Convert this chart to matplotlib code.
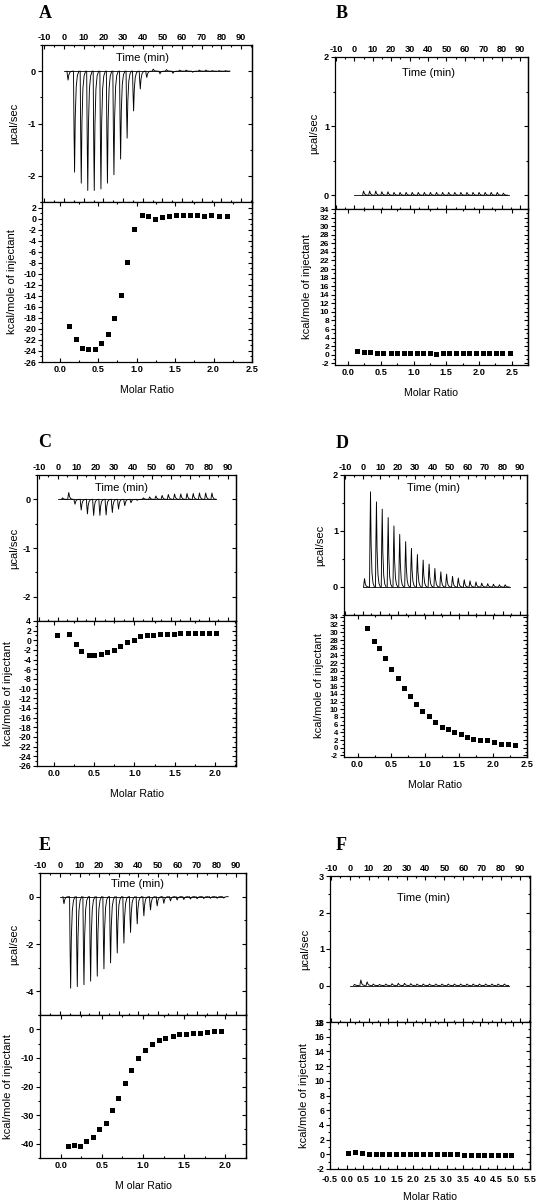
import matplotlib
matplotlib.use("Agg")
import matplotlib.pyplot as plt
import matplotlib.transforms as mtransforms
from matplotlib.ticker import MultipleLocator, FormatStrFormatter, NullFormatter

plt.rcParams['font.family'] = ['Liberation Sans', 'DejaVu Sans']
plt.rcParams['axes.unicode_minus'] = False

# ---------------- data ----------------
# injection times (min) and raw peak heights (µcal/sec)
A_times = [1.5, 4.8, 8.2, 11.5, 14.8, 18.2, 21.5, 24.8, 28.2, 31.5, 34.8, 38.2, 41.5,
           44.8, 48.2, 51.5, 54.8, 58.2, 61.5, 64.8, 68.2, 71.5, 74.8, 78.2, 81.5]
A_peaks = [-0.17, -1.93, -2.14, -2.28, -2.28, -2.25, -2.14, -1.98, -1.68, -1.28, -0.76, -0.34,
           -0.12, 0.04, -0.05, 0.03, -0.04, 0.02, 0.02, -0.02, 0.02, 0.02, 0.01, 0.01, 0.01]
A_ratio = [0.12, 0.21, 0.29, 0.37, 0.46, 0.54, 0.63, 0.71, 0.80, 0.88, 0.97, 1.07,
           1.15, 1.24, 1.33, 1.42, 1.51, 1.60, 1.70, 1.79, 1.88, 1.97, 2.07, 2.17]
A_heat = [-19.4, -21.9, -23.5, -23.6, -23.6, -22.5, -21.0, -18.0, -13.8, -7.9, -1.9, 0.7,
          0.4, 0.0, 0.2, 0.4, 0.6, 0.6, 0.6, 0.6, 0.5, 0.6, 0.5, 0.4]

B_times = [4.5, 7.8, 11.1, 14.4, 17.7, 21.0, 24.3, 27.6, 30.9, 34.2, 37.5, 40.8,
           44.1, 47.4, 50.7, 54.0, 57.3, 60.6, 63.9, 67.2, 70.5, 73.8, 77.1, 80.4]
B_peaks = [0.06, 0.06, 0.06, 0.05, 0.05, 0.04, 0.04, 0.04, 0.04, 0.04, 0.04, 0.04,
           0.04, 0.04, 0.04, 0.04, 0.04, 0.04, 0.04, 0.04, 0.04, 0.04, 0.04, 0.03]
B_ratio = [0.14, 0.24, 0.34, 0.44, 0.54, 0.65, 0.75, 0.85, 0.95, 1.05, 1.15, 1.25,
           1.35, 1.45, 1.55, 1.65, 1.75, 1.85, 1.96, 2.06, 2.16, 2.26, 2.36, 2.47]
B_heat = [0.8, 0.6, 0.6, 0.5, 0.4, 0.4, 0.4, 0.4, 0.4, 0.4, 0.4, 0.4,
          0.2, 0.3, 0.4, 0.4, 0.4, 0.4, 0.4, 0.4, 0.4, 0.4, 0.3, 0.3]

C_times = [2.0, 5.3, 8.6, 11.9, 15.2, 18.5, 21.8, 25.1, 28.4, 31.7, 35.0, 38.3, 41.6,
           44.9, 48.2, 51.5, 54.8, 58.1, 61.4, 64.7, 68.0, 71.3, 74.6, 77.9, 81.2]
C_peaks = [0.03, 0.14, -0.10, -0.22, -0.30, -0.33, -0.33, -0.32, -0.27, -0.20, -0.13, -0.07,
           -0.02, 0.03, 0.05, 0.07, 0.08, 0.10, 0.11, 0.11, 0.12, 0.12, 0.13, 0.13, 0.13]
C_ratio = [0.04, 0.19, 0.27, 0.34, 0.43, 0.50, 0.58, 0.66, 0.74, 0.82, 0.91, 0.99,
           1.07, 1.15, 1.23, 1.32, 1.40, 1.49, 1.57, 1.66, 1.75, 1.84, 1.93, 2.01]
C_heat = [1.0, 1.3, -0.7, -2.3, -3.0, -3.1, -2.8, -2.5, -1.9, -1.2, -0.4, 0.1,
          0.8, 1.1, 1.2, 1.4, 1.4, 1.4, 1.5, 1.6, 1.6, 1.6, 1.6, 1.6]

D_times = [0.5, 3.9, 7.3, 10.6, 14.0, 17.3, 20.6, 24.0, 27.3, 30.7, 34.0, 37.4, 40.7,
           44.1, 47.4, 50.8, 54.1, 57.5, 60.8, 64.2, 67.5, 70.9, 74.2, 77.6, 80.9]
D_peaks = [0.15, 1.70, 1.52, 1.39, 1.24, 1.09, 0.94, 0.81, 0.69, 0.58, 0.48, 0.41, 0.33,
           0.27, 0.23, 0.19, 0.16, 0.13, 0.11, 0.09, 0.07, 0.06, 0.05, 0.04, 0.04]
D_ratio = [0.14, 0.24, 0.32, 0.41, 0.50, 0.59, 0.68, 0.77, 0.86, 0.95, 1.05, 1.14,
           1.24, 1.33, 1.42, 1.52, 1.61, 1.71, 1.81, 1.91, 2.01, 2.11, 2.22, 2.32]
D_heat = [31.0, 27.8, 25.8, 23.2, 20.4, 18.0, 15.6, 13.4, 11.4, 9.5, 8.2, 6.7,
          5.5, 4.8, 4.0, 3.5, 2.9, 2.4, 2.1, 1.9, 1.5, 1.1, 1.0, 0.7]

E_times = [1.5, 4.9, 8.3, 11.7, 15.1, 18.5, 21.9, 25.3, 28.7, 32.1, 35.5, 38.9, 42.3,
           45.7, 49.1, 52.5, 55.9, 59.3, 62.7, 66.1, 69.5, 72.9, 76.3, 79.7, 83.1]
E_peaks = [-0.30, -3.87, -3.80, -3.72, -3.57, -3.36, -3.05, -2.80, -2.38, -1.96, -1.51, -1.15,
           -0.81, -0.56, -0.39, -0.28, -0.18, -0.14, -0.12, -0.10, -0.09, -0.08, -0.07, -0.07, -0.06]
E_ratio = [0.09, 0.16, 0.24, 0.31, 0.39, 0.47, 0.55, 0.62, 0.70, 0.78, 0.86, 0.94,
           1.02, 1.11, 1.19, 1.27, 1.36, 1.44, 1.52, 1.61, 1.69, 1.78, 1.86, 1.95]
E_heat = [-40.9, -40.5, -40.8, -39.2, -37.7, -35.0, -32.6, -28.3, -23.9, -18.7, -14.3, -10.2,
          -7.2, -5.1, -3.8, -2.9, -2.3, -1.7, -1.5, -1.4, -1.3, -0.9, -0.6, -0.6]

F_times = [2.0, 5.3, 8.6, 11.9, 15.2, 18.5, 21.8, 25.1, 28.4, 31.7, 35.0, 38.3, 41.6,
           44.9, 48.2, 51.5, 54.8, 58.1, 61.4, 64.7, 68.0, 71.3, 74.6, 77.9, 81.2]
F_peaks = [0.03, 0.15, 0.10, 0.04, 0.03, 0.04, 0.05, 0.06, 0.06, 0.05, 0.04, 0.04, 0.04,
           0.04, 0.04, 0.04, 0.04, 0.04, 0.04, 0.04, 0.04, 0.04, 0.04, 0.04, 0.04]
F_ratio = [0.05, 0.25, 0.46, 0.66, 0.87, 1.07, 1.27, 1.48, 1.68, 1.89, 2.09, 2.29, 2.50,
           2.70, 2.91, 3.11, 3.31, 3.52, 3.72, 3.93, 4.13, 4.33, 4.54, 4.74, 4.94]
F_heat = [0.15, 0.3, 0.2, 0.05, 0.0, 0.05, 0.05, 0.05, 0.05, 0.05, 0.02, 0.02, 0.02,
          0.0, 0.0, 0.0, 0.0, -0.05, -0.05, -0.05, -0.05, -0.05, -0.05, -0.05, -0.05]

# ---------------- layout ----------------
W, H = 536, 1200
fig = plt.figure(figsize=(W / 100, H / 100), dpi=100)


def box(l, r, t, b):
    return [l / W, 1 - b / H, (r - l) / W, (b - t) / H]


# peak shape template (offset in min, fraction of height)
SHAPE_DT = [0.0, 0.25, 0.55, 0.9, 1.4, 2.0, 2.8]
SHAPE_F = [0.0, 0.55, 1.0, 0.45, 0.15, 0.04, 0.0]

panels = [
    dict(letter='A', lx=45, ly=13, tl=42, tr=252, tt=45, tb=202, bb=362,
         times=A_times, peaks=A_peaks, ratio=A_ratio, heat=A_heat,
         txlim=(-11.2, 95.5), tylim=(-2.5, 0.5), tmaj=1, tmin=0.5,
         bxlim=(-0.23, 2.5), bylim=(-26, 3), bmaj=2, bmin=1, byfs=6.4,
         tlabel=(40, 0.915), ylt=-0.107, ylb=-0.117),
    dict(letter='B', lx=342, ly=13, tl=335, tr=528, tt=57, tb=209, bb=365,
         times=B_times, peaks=B_peaks, ratio=B_ratio, heat=B_heat,
         txlim=(-10.5, 94.3), tylim=(-0.2, 2.0), tmaj=1, tmin=0.5,
         bxlim=(-0.2, 2.75), bylim=(-2.4, 34), bmaj=2, bmin=1, byfs=6.0,
         tlabel=(40, 0.895), ylt=-0.08, ylb=-0.117),
    dict(letter='C', lx=45, ly=442, tl=37, tr=236, tt=475, tb=621, bb=766,
         times=C_times, peaks=C_peaks, ratio=C_ratio, heat=C_heat,
         txlim=(-11.0, 94.5), tylim=(-2.5, 0.5), tmaj=1, tmin=0.5,
         bxlim=(-0.21, 2.26), bylim=(-26, 4), bmaj=2, bmin=1, byfs=6.2,
         tlabel=(33.6, 0.91), ylt=-0.088, ylb=-0.123),
    dict(letter='D', lx=342, ly=443, tl=344, tr=527, tt=475, tb=615, bb=757,
         times=D_times, peaks=D_peaks, ratio=D_ratio, heat=D_heat,
         txlim=(-10.7, 93.9), tylim=(-0.5, 2.0), tmaj=1, tmin=0.5,
         bxlim=(-0.2, 2.5), bylim=(-2.4, 34.5), bmaj=2, bmin=1, byfs=5.6,
         tlabel=(40.5, 0.905), ylt=-0.101, ylb=-0.107),
    dict(letter='E', lx=45, ly=845, tl=40, tr=246, tt=873, tb=1015, bb=1158,
         times=E_times, peaks=E_peaks, ratio=E_ratio, heat=E_heat,
         txlim=(-10.2, 95.0), tylim=(-5.0, 1.0), tmaj=2, tmin=1,
         bxlim=(-0.25, 2.25), bylim=(-45, 5), bmaj=10, bmin=5, byfs=6.6,
         tlabel=(39.6, 0.92), ylt=-0.10, ylb=-0.133),
    dict(letter='F', lx=341, ly=845, tl=330, tr=530, tt=876, tb=1022, bb=1169,
         times=F_times, peaks=F_peaks, ratio=F_ratio, heat=F_heat,
         txlim=(-10.5, 95.3), tylim=(-1.0, 3.0), tmaj=1, tmin=0.5,
         bxlim=(-0.5, 5.5), bylim=(-2, 18), bmaj=2, bmin=1, byfs=6.4,
         tlabel=(39, 0.85), ylt=-0.0975, ylb=-0.1025),
]

TICKFS = 6.6
YLABFS = 8.0
TLABFS = 8.0
XLABFS = 7.6


def style(ax, ymaj, ymin, yfs):
    for s in ax.spines.values():
        s.set_linewidth(0.9)
    # x: ticks inside on both top and bottom
    ax.tick_params(axis='x', which='both', direction='in', top=True, bottom=True,
                   width=0.8, labelsize=TICKFS, pad=2.5)
    # y (left): ticks outside
    ax.tick_params(axis='y', which='both', direction='out', left=True, right=False,
                   width=0.8, labelsize=yfs, pad=1.2)
    ax.tick_params(which='major', length=3)
    ax.tick_params(which='minor', length=1.6)
    for lab in ax.get_xticklabels() + ax.get_yticklabels():
        lab.set_fontweight('bold')
    # right: ticks inside, no labels
    sec = ax.secondary_yaxis('right')
    sec.yaxis.set_major_locator(MultipleLocator(ymaj))
    sec.yaxis.set_minor_locator(MultipleLocator(ymin))
    sec.yaxis.set_major_formatter(NullFormatter())
    sec.tick_params(which='both', direction='in', width=0.8)
    sec.tick_params(which='major', length=3)
    sec.tick_params(which='minor', length=1.6)
    sec.spines['right'].set_linewidth(0.9)


for p in panels:
    # ---- top: raw thermogram ----
    at = fig.add_axes(box(p['tl'], p['tr'], p['tt'], p['tb']))
    at.plot([0, 84], [0, 0], color='black', lw=0.6)
    for t0, h in zip(p['times'], p['peaks']):
        xs = [t0 + d for d in SHAPE_DT]
        ys = [h * f for f in SHAPE_F]
        at.plot(xs, ys, color='black', lw=0.65)
    at.set_xlim(*p['txlim'])
    at.set_ylim(*p['tylim'])
    at.xaxis.set_major_locator(MultipleLocator(10))
    at.xaxis.set_minor_locator(MultipleLocator(5))
    at.yaxis.set_major_locator(MultipleLocator(p['tmaj']))
    at.yaxis.set_minor_locator(MultipleLocator(p['tmin']))
    at.xaxis.set_major_formatter(FormatStrFormatter('%d'))
    at.yaxis.set_major_formatter(FormatStrFormatter('%d'))
    at.tick_params(labeltop=True, labelbottom=False)
    style(at, p['tmaj'], p['tmin'], TICKFS)
    at.set_ylabel('µcal/sec', fontsize=YLABFS)
    at.yaxis.set_label_coords(p['ylt'], 0.5)
    tr = mtransforms.blended_transform_factory(at.transData, at.transAxes)
    at.text(p['tlabel'][0], p['tlabel'][1], 'Time (min)', transform=tr,
            ha='center', va='center', fontsize=TLABFS)

    # ---- bottom: integrated heats ----
    ab = fig.add_axes(box(p['tl'], p['tr'], p['tb'], p['bb']))
    ab.plot(p['ratio'], p['heat'], 's', color='black', ms=3.6, mew=0)
    ab.set_xlim(*p['bxlim'])
    ab.set_ylim(*p['bylim'])
    ab.xaxis.set_major_locator(MultipleLocator(0.5))
    ab.xaxis.set_minor_locator(MultipleLocator(0.25))
    ab.yaxis.set_major_locator(MultipleLocator(p['bmaj']))
    ab.yaxis.set_minor_locator(MultipleLocator(p['bmin']))
    ab.xaxis.set_major_formatter(FormatStrFormatter('%.1f'))
    ab.yaxis.set_major_formatter(FormatStrFormatter('%d'))
    style(ab, p['bmaj'], p['bmin'], p['byfs'])
    if p['letter'] == 'F':
        ab.tick_params(axis='x', pad=4.5)
    ab.set_ylabel('kcal/mole of injectant', fontsize=YLABFS)
    ab.yaxis.set_label_coords(p['ylb'], 0.5)
    ab.set_xlabel('M olar Ratio' if p['letter'] == 'E' else 'Molar Ratio',
                  fontsize=XLABFS, labelpad=7.5 if p['letter'] != 'F' else 5.5)

    fig.text(p['lx'] / W, 1 - p['ly'] / H, p['letter'], fontsize=13,
             fontweight='bold', family='Liberation Serif', ha='center', va='center')

fig.savefig('out.png', dpi=100, facecolor='white')
